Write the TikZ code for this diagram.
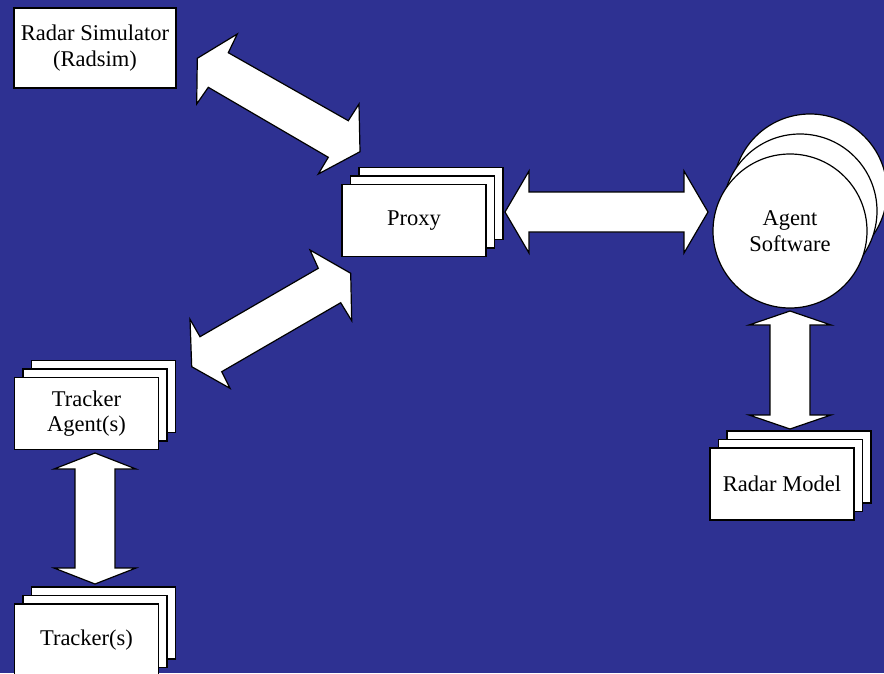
\documentclass[tikz,border=0pt]{standalone}
\usepackage{fontspec}
\setmainfont{Liberation Serif}
\newfontfamily\cardfont{Liberation Serif}
\usetikzlibrary{calc,shadows}
\definecolor{slideblue}{RGB}{46,49,146}
\tikzset{
  card/.style={draw=black,fill=white,line width=1.2pt,align=center,
    font=\cardfont\fontsize{22.5}{25.5}\selectfont},
  deck/.style={card,minimum width=144pt,minimum height=72pt,
    copy shadow={shadow xshift=17pt,shadow yshift=17pt},
    copy shadow={shadow xshift=8.5pt,shadow yshift=8.5pt}},
  blockarr/.style={draw=black,fill=white,line width=1.2pt,line join=miter}
}
% double block arrow: start, end, head length
\newcommand\blockarrow[3]{%
  \path ($(#1)!#3!(#2)$) coordinate (ba1) ($(#2)!#3!(#1)$) coordinate (ba2);
  \draw[blockarr] (#1) -- ($(ba1)!41pt!90:(#2)$) -- ($(ba1)!20pt!90:(#2)$)
    -- ($(ba2)!20pt!-90:(#1)$) -- ($(ba2)!41pt!-90:(#1)$) -- (#2)
    -- ($(ba2)!41pt!90:(#1)$) -- ($(ba2)!20pt!90:(#1)$)
    -- ($(ba1)!20pt!-90:(#2)$) -- ($(ba1)!41pt!-90:(#2)$) -- cycle;}
\begin{document}
\begin{tikzpicture}[x=1pt,y=-1pt]
  \fill[slideblue] (0,0) rectangle (884,673);
  \useasboundingbox (0,0) rectangle (884,673);
  % boxes
  \node[card,minimum width=162pt,minimum height=80pt] (radsim) at (95,48) {Radar Simulator\\(Radsim)};
  \node[deck] (proxy) at (414,220.5) {Proxy};
  \node[deck] (tagent) at (86.5,413.5) {Tracker\\Agent(s)};
  \node[deck] (tracker) at (86.5,640) {Tracker(s)};
  \node[deck] (model) at (782,484) {Radar Model};
  \node[card,circle,minimum size=154pt,
    copy shadow={shadow xshift=20pt,shadow yshift=40pt},
    copy shadow={shadow xshift=10pt,shadow yshift=20pt}] (agent) at (790,231) {Agent\\Software};
  % arrow ends
  \path
  (505,212) coordinate (pxE) (708,212) coordinate (agW)
  (790,311) coordinate (agS) (790,429) coordinate (mdN)
  (95,453) coordinate (taS) (95,584) coordinate (trN);
  \blockarrow{pxE}{agW}{24pt}
  \blockarrow{agS}{mdN}{14pt}
  \blockarrow{taS}{trN}{16pt}
  % slanted arrows
  \draw[blockarr] (237.3,34) -- (228.3,52.7) -- (348.3,120.7) -- (359,104) -- (360,151.7)
    -- (318.3,174) -- (328.3,157.3) -- (208.3,87.3) -- (196.7,104) -- (197.3,58.3) -- cycle;
  \draw[blockarr] (310,250) -- (318.3,268.3) -- (200,336.7) -- (190,319.3) -- (191.7,366.7)
    -- (230,388.3) -- (221.7,371.7) -- (340.7,302.7) -- (351.7,320.7) -- (350.7,273.3) -- cycle;
\end{tikzpicture}
\end{document}
